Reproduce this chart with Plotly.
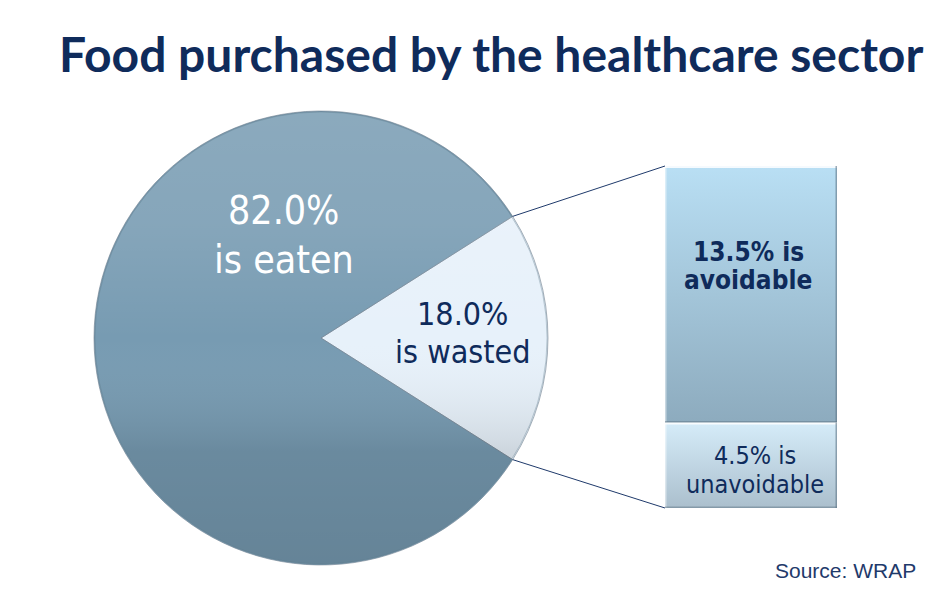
import math
import base64
import plotly.graph_objects as go

# ---- data ----
pie_labels = ["is wasted", "is eaten"]
pie_values = [18.0, 82.0]
pie_colors = ["#e7f1fa", "#779bb2"]

bar_labels = ["is unavoidable", "is avoidable"]
bar_values = [4.5, 13.5]
bar_colors = ["#c1d6e4", "#a3c5d9"]
bar_grad = [("#d5ecf9", "#abbfcd"), ("#b9dff4", "#8dabbe")]

title_text = "Food purchased by the healthcare sector"
source_text = "Source: WRAP"

W, H = 946, 591
OFF = 8  # page body margin
NAVY = "#0f2b5b"
LABEL_FONT = "DejaVu Sans Condensed, DejaVu Sans, Verdana, sans-serif"

def px(x):  # page pixel x -> paper
    return (x - OFF) / W

def py(y):  # page pixel y -> paper
    return 1 - (y - OFF) / H

# pie geometry (page pixels)
pcx, pcy, pr = 321.0, 338.0, 227.0
pie_dom_x = [px(pcx - pr), px(pcx + pr)]
pie_dom_y = [py(pcy + pr), py(pcy - pr)]

total = sum(pie_values)
wasted_frac = pie_values[0] / total
rotation = 90 - 360 * wasted_frac / 2

fig = go.Figure()
fig.add_trace(go.Pie(
    labels=pie_labels, values=pie_values, sort=False,
    direction="clockwise", rotation=rotation,
    marker=dict(colors=pie_colors, line=dict(color="rgba(110,125,140,0.6)", width=1)),
    textinfo="none", hoverinfo="label+percent",
    domain=dict(x=pie_dom_x, y=pie_dom_y), showlegend=False,
))

# stacked bar
bar_x0, bar_x1, bar_y0, bar_y1 = 665.0, 837.0, 166.0, 508.0
for lab, val, col in zip(bar_labels, bar_values, bar_colors):
    fig.add_trace(go.Bar(
        x=[0], y=[val], width=[1], name=lab,
        marker=dict(color=col, line=dict(color="rgba(255,255,255,0.7)", width=1.5)),
        showlegend=False, hoverinfo="name+y",
    ))

bar_total = sum(bar_values)
fig.update_layout(
    width=W, height=H, margin=dict(l=0, r=0, t=0, b=0),
    paper_bgcolor="white", plot_bgcolor="rgba(0,0,0,0)",
    barmode="stack", bargap=0,
    xaxis=dict(domain=[px(bar_x0), px(bar_x1)], range=[-0.5, 0.5], visible=False, fixedrange=True),
    yaxis=dict(domain=[py(bar_y1), py(bar_y0)], range=[0, bar_total], visible=False, fixedrange=True),
)

def svg_uri(svg):
    return "data:image/svg+xml;base64," + base64.b64encode(svg.encode()).decode()

# gradient shading over the pie
pie_svg = (
    "<svg xmlns='http://www.w3.org/2000/svg' viewBox='0 0 100 100' preserveAspectRatio='none'>"
    "<defs><linearGradient id='g' x1='0' y1='0' x2='0' y2='1'>"
    "<stop offset='0' stop-color='#ffffff' stop-opacity='0.15'/>"
    "<stop offset='0.25' stop-color='#ffffff' stop-opacity='0.11'/>"
    "<stop offset='0.5' stop-color='#ffffff' stop-opacity='0'/>"
    "<stop offset='0.75' stop-color='#000000' stop-opacity='0.11'/>"
    "<stop offset='1' stop-color='#000000' stop-opacity='0.15'/>"
    "</linearGradient></defs>"
    "<circle cx='50' cy='50' r='49.8' fill='url(#g)' stroke='#5d7888' stroke-opacity='0.35' "
    "stroke-width='1' vector-effect='non-scaling-stroke'/></svg>"
)
images = [dict(source=svg_uri(pie_svg), xref="paper", yref="paper",
               x=pie_dom_x[0], y=pie_dom_y[1], sizex=pie_dom_x[1] - pie_dom_x[0],
               sizey=pie_dom_y[1] - pie_dom_y[0], xanchor="left", yanchor="top",
               sizing="stretch", layer="above")]

# gradient skin for each bar segment, placed through the bar axes
cum = 0.0
for val, (ctop, cbot) in zip(bar_values, bar_grad):
    seg_svg = (
        "<svg xmlns='http://www.w3.org/2000/svg' viewBox='0 0 100 100' preserveAspectRatio='none'>"
        f"<defs><linearGradient id='g' x1='0' y1='0' x2='0' y2='1'>"
        f"<stop offset='0' stop-color='{ctop}'/><stop offset='1' stop-color='{cbot}'/>"
        "</linearGradient></defs>"
        "<rect width='100' height='100' fill='url(#g)'/>"
        "<line x1='0' y1='0' x2='100' y2='0' stroke='#ffffff' stroke-opacity='0.85' stroke-width='4' vector-effect='non-scaling-stroke'/>"
        "<line x1='0' y1='0' x2='0' y2='100' stroke='#ffffff' stroke-opacity='0.5' stroke-width='3' vector-effect='non-scaling-stroke'/>"
        "<line x1='100' y1='0' x2='100' y2='100' stroke='#5f7585' stroke-opacity='0.6' stroke-width='3' vector-effect='non-scaling-stroke'/>"
        "<line x1='0' y1='100' x2='100' y2='100' stroke='#5f7585' stroke-opacity='0.5' stroke-width='3' vector-effect='non-scaling-stroke'/>"
        "</svg>"
    )
    images.append(dict(source=svg_uri(seg_svg), xref="x", yref="y",
                       x=-0.5, y=cum + val, sizex=1, sizey=val,
                       xanchor="left", yanchor="top", sizing="stretch", layer="above"))
    cum += val
fig.update_layout(images=images)

# connector lines from slice edges to bar corners
half = math.pi * wasted_frac
ex = pcx + pr * math.cos(half)
ey_top = pcy - pr * math.sin(half)
ey_bot = pcy + pr * math.sin(half)
for (ax, ay, bx, by) in [(ex, ey_top, bar_x0, bar_y0), (ex, ey_bot, bar_x0, bar_y1)]:
    fig.add_shape(type="line", xref="paper", yref="paper",
                  x0=px(ax), y0=py(ay), x1=px(bx), y1=py(by),
                  line=dict(color="#1f3a6b", width=1))

def ann(text, x, y, size, color, family=LABEL_FONT, bold=False, xanchor="center"):
    fig.add_annotation(
        text=f"<b>{text}</b>" if bold else text,
        x=px(x), y=py(y), xref="paper", yref="paper",
        xanchor=xanchor, yanchor="middle", showarrow=False, align="center",
        font=dict(family=family, size=size, color=color),
    )

ann(title_text, 491, 54, 48, NAVY, family="Lato, Roboto, sans-serif", bold=True)
ann(f"{pie_values[1]:.1f}%", 283, 210, 39, "white")
ann(pie_labels[1], 284, 259, 39, "white")
ann(f"{pie_values[0]:.1f}%", 462, 314, 32, NAVY)
ann(pie_labels[0], 463, 352, 32, NAVY)
ann(f"{bar_values[1]:.1f}% is", 748, 252, 26, NAVY, bold=True)
ann("avoidable", 748, 280, 26, NAVY, bold=True)
ann(f"{bar_values[0]:.1f}% is", 755, 455, 25, NAVY)
ann("unavoidable", 755, 484, 25, NAVY)
ann(source_text, 918, 570, 21, "#1f3a6b", family="Liberation Sans, Arial, sans-serif", xanchor="right")

fig.write_html("out.html")
